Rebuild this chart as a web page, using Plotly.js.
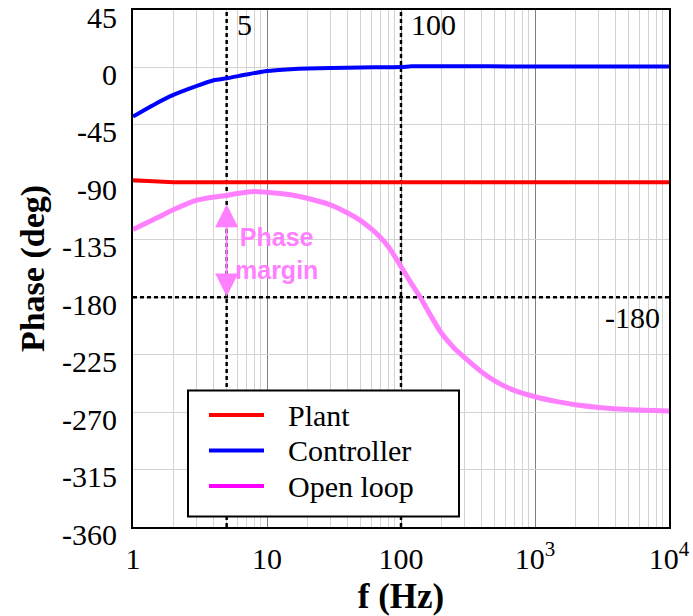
<!DOCTYPE html>
<html>
<head>
<meta charset="utf-8">
<script src="https://cdn.plot.ly/plotly-3.0.1.min.js"></script>
<style>html,body{margin:0;padding:0;background:#fff;}#chart{width:693px;height:616px;}</style>
</head>
<body>
<div id="chart"></div>
<script>
// ---- data ----
const plantF   = [1, 1.5, 2, 5, 10, 100, 1000, 10000];
const plantPh  = [-88.3, -89.4, -90, -90, -90, -90, -90, -90];

const ctrlF    = [1, 1.5, 2, 3, 4, 5, 7, 10, 15, 20, 30, 50, 100, 120, 200, 1000, 10000];
const ctrlPh   = [-38.5, -28, -21.5, -14.4, -10, -8.5, -5.6, -2.8, -1.4, -0.8, -0.4, 0, 0.3, 0.9, 0.9, 0.8, 0.8];

const olF      = [1, 1.5, 2, 3, 4, 5, 6, 8, 10, 15, 20, 30, 40, 50, 60, 70, 80, 100, 120, 140, 170, 200, 250, 300, 400, 500, 700, 1000, 1500, 2000, 3000, 5000, 10000];
const olPh     = [-127, -118, -111.5, -104, -101.5, -100.3, -98.8, -97.2, -97.8, -99.8, -102.5, -107.8, -114, -120, -126.5, -133, -140, -156, -169.5, -180.5, -196, -208, -220, -227.5, -238.5, -245.5, -253, -258, -262, -264.2, -266.3, -268, -269.2];

const crossF   = [5, 100];          // vertical marker frequencies
const refPhase = -180;              // reference phase line
const markLabels = ['5', '100', '-180'];
const seriesNames = ['Plant', 'Controller', 'Open loop'];
const legendColors = ['#ff0000', '#0000ff', '#ff00ff'];

const xTickVals = [1, 10, 100, 1000, 10000];
const xTickText = ['1', '10', '100', '10<sup>3</sup>', '10<sup>4</sup>'];
const yTickVals = [45, 0, -45, -90, -135, -180, -225, -270, -315, -360];
const yTickText = ['45', '0', '-45', '-90', '-135', '-180', '-225', '-270', '-315', '-360'];

const xRange = [1, 10000];
const yRange = [-360, 45];

// ---- styles ----
const SERIF = 'Liberation Serif';
const SANS = 'Liberation Sans';
const PINK = '#ff80ff';
const dashStyle = {color: '#000', width: 2.5, dash: '4px,3px'};

const traces = [];
crossF.forEach(f => traces.push({
  x: [f, f], y: yRange, mode: 'lines', line: dashStyle, showlegend: false, hoverinfo: 'skip'
}));
traces.push({x: xRange, y: [refPhase, refPhase], mode: 'lines', line: dashStyle, showlegend: false, hoverinfo: 'skip'});

traces.push({x: plantF, y: plantPh, mode: 'lines', name: seriesNames[0], line: {color: legendColors[0], width: 4}});
traces.push({x: ctrlF, y: ctrlPh, mode: 'lines', name: seriesNames[1], line: {color: legendColors[1], width: 4, shape: 'spline', smoothing: 0.6}});
traces.push({x: olF, y: olPh, mode: 'lines', name: seriesNames[2], line: {color: PINK, width: 5, shape: 'spline', smoothing: 0.8}});

const L5 = Math.log10(crossF[0]);
const L100 = Math.log10(crossF[1]);

// ---- boxed legend (drawn in paper coordinates, like the reference) ----
const legBox = {x0: 0.1026, x1: 0.6082, y0: 0.0203, y1: 0.2638};
const legRowY = [0.2164, 0.1478, 0.0792];
const legSwatch = [0.1418, 0.2444];
const legTextX = 0.2854;

const shapes = [
  {type: 'rect', xref: 'paper', yref: 'paper', x0: legBox.x0, x1: legBox.x1, y0: legBox.y0, y1: legBox.y1,
   fillcolor: '#fff', line: {color: '#000', width: 2}, layer: 'above'}
];
const annotations = [];
seriesNames.forEach((name, i) => {
  shapes.push({type: 'line', xref: 'paper', yref: 'paper', x0: legSwatch[0], x1: legSwatch[1],
    y0: legRowY[i], y1: legRowY[i], line: {color: legendColors[i], width: 4}, layer: 'above'});
  annotations.push({xref: 'paper', yref: 'paper', x: legTextX, y: legRowY[i], text: name, showarrow: false,
    xanchor: 'left', yanchor: 'middle', font: {family: SERIF, size: 30, color: '#000'}});
});

annotations.push(
  {xref: 'x', yref: 'y', x: L5, y: 33.3, text: markLabels[0], showarrow: false,
   xanchor: 'left', yanchor: 'middle', xshift: 8, font: {family: SERIF, size: 30}},
  {xref: 'x', yref: 'y', x: L100, y: 33.3, text: markLabels[1], showarrow: false,
   xanchor: 'left', yanchor: 'middle', xshift: 8, font: {family: SERIF, size: 30}},
  {xref: 'paper', yref: 'y', x: 1, y: -195.6, text: markLabels[2], showarrow: false,
   xanchor: 'right', yanchor: 'middle', xshift: -7, font: {family: SERIF, size: 30}},
  {xref: 'x', yref: 'y', x: L5, y: -146, text: '<b>Phase<br>margin</b>', showarrow: false,
   xanchor: 'left', yanchor: 'middle', xshift: 6, align: 'center',
   font: {family: SANS, size: 25, color: PINK}},
  {xref: 'x', yref: 'y', axref: 'x', ayref: 'y', x: L5, y: -179.5, ax: L5, ay: -106,
   text: '', showarrow: true, arrowside: 'end+start', arrowhead: 2, startarrowhead: 2,
   arrowsize: 2.3, startarrowsize: 2.3, arrowwidth: 2, arrowcolor: PINK, standoff: 0, startstandoff: 0}
);

const layout = {
  width: 693, height: 616,
  margin: {l: 133, r: 24, t: 9.5, b: 88.5},
  paper_bgcolor: '#fff', plot_bgcolor: '#fff',
  font: {family: SERIF, color: '#000', size: 30},
  showlegend: false,
  xaxis: {
    type: 'log', range: [Math.log10(xRange[0]), Math.log10(xRange[1])],
    tickvals: xTickVals, ticktext: xTickText,
    showgrid: true, gridcolor: '#808080', gridwidth: 1,
    minor: {dtick: 'D1', showgrid: true, gridcolor: '#d3d3d3', gridwidth: 1, ticks: ''},
    showline: true, linecolor: '#000', linewidth: 2, mirror: true,
    ticks: '', ticklabelstandoff: 4, zeroline: false, ticklabeloverflow: 'allow',
    tickfont: {family: SERIF, size: 30, color: '#000'},
    title: {text: '<b>f (Hz)</b>', font: {family: SERIF, size: 35, color: '#000'}, standoff: 10}
  },
  yaxis: {
    range: [yRange[0], yRange[1] + 0.001], tickvals: yTickVals, ticktext: yTickText,
    showgrid: true, gridcolor: '#d3d3d3', gridwidth: 1,
    showline: true, linecolor: '#000', linewidth: 2, mirror: true,
    ticks: '', ticklabelstandoff: 8, ticklabelshift: 7, ticklabeloverflow: 'allow', zeroline: false,
    tickfont: {family: SERIF, size: 30, color: '#000'},
    title: {text: '<b>Phase (deg)</b>', font: {family: SERIF, size: 34, color: '#000'}, standoff: 7}
  },
  shapes: shapes,
  annotations: annotations
};

Plotly.newPlot('chart', traces, layout, {staticPlot: true, displayModeBar: false});
</script>
</body>
</html>
